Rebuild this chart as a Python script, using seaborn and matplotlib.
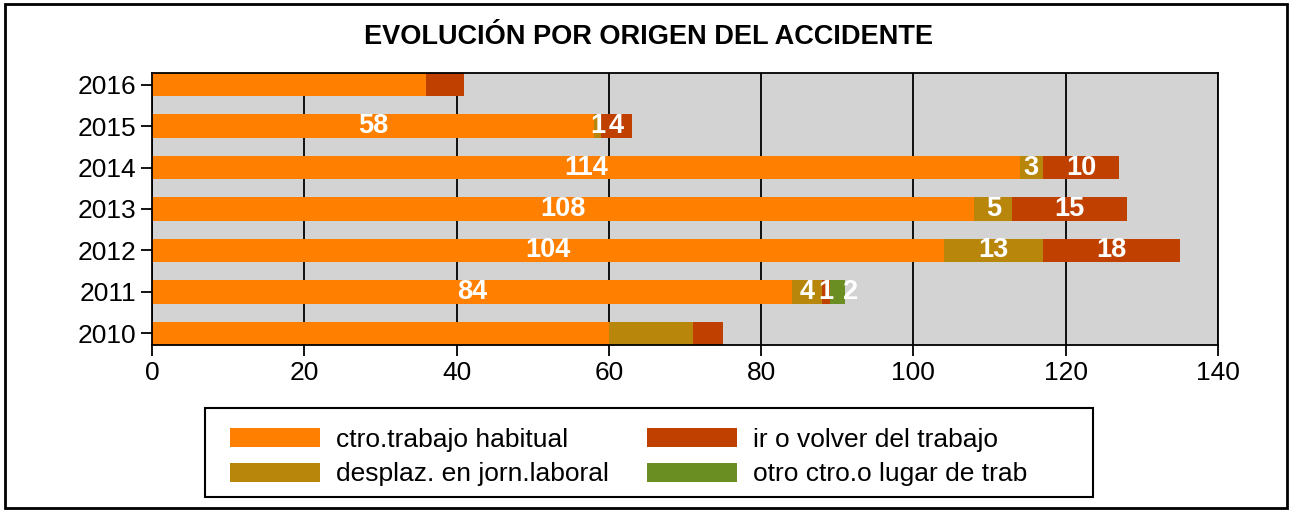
import matplotlib
matplotlib.use("Agg")
import matplotlib.pyplot as plt
from matplotlib.patches import Patch, Rectangle
import numpy as np
import pandas as pd
import seaborn as sns

# Datos (de arriba a abajo, como en el gráfico)
anios = ["2016", "2015", "2014", "2013", "2012", "2011", "2010"]
ctro_habitual = [36, 58, 114, 108, 104, 84, 60]
desplaz_jornada = [0, 1, 3, 5, 13, 4, 11]
ir_volver = [5, 4, 10, 15, 18, 1, 4]
otro_ctro = [0, 0, 0, 0, 0, 2, 0]
con_etiquetas = [False, True, True, True, True, True, False]

series = [
    ("ctro.trabajo habitual", ctro_habitual, "#FF8000"),
    ("desplaz. en jorn.laboral", desplaz_jornada, "#B8860B"),
    ("ir o volver del trabajo", ir_volver, "#C04000"),
    ("otro ctro.o lugar de trab", otro_ctro, "#6B8E23"),
]

sns.set_theme(style="white")
plt.rcParams["font.family"] = ["Liberation Sans", "DejaVu Sans"]
plt.rcParams["text.color"] = "black"

fig = plt.figure(figsize=(12.92, 5.12), dpi=100)
ax = fig.add_axes([0.1176, 0.3262, 0.8251, 0.5312])
ax.set_facecolor("#D3D3D3")

ancho = 0.56
acumulado = np.zeros(len(anios))
for k, (nombre, valores, color) in enumerate(series):
    df = pd.DataFrame({"anio": anios, "valor": valores})
    sns.barplot(data=df, x="valor", y="anio", order=anios, orient="h",
                color=color, width=ancho, left=acumulado.copy(),
                linewidth=0, saturation=1, ax=ax)
    for i, v in enumerate(valores):
        if con_etiquetas[i] and v > 0:
            # la última serie lleva la etiqueta justo a la derecha del tramo
            if k == len(series) - 1:
                x = acumulado[i] + v + 0.8
            else:
                x = acumulado[i] + v / 2
            ax.text(x, i, str(v), ha="center", va="center",
                    color="white", fontweight="bold", fontsize=19.5)
    acumulado += np.array(valores)

ax.set_xlim(0, 140)
ax.set_ylim(len(anios) - 1 + ancho / 2, -ancho / 2)
ax.set_xticks(range(0, 141, 20))
ax.set_xlabel("")
ax.set_ylabel("")
ax.grid(axis="x", color="black", linewidth=1.3)
ax.grid(axis="y", visible=False)
ax.set_axisbelow(True)
for sp in ax.spines.values():
    sp.set_color("black")
    sp.set_linewidth(1.3)
ax.tick_params(axis="both", direction="out", length=8, width=1.3,
               colors="black", labelsize=19, left=True, bottom=True)

fig.text(0.5016, 0.928, "EVOLUCIÓN POR ORIGEN DEL ACCIDENTE",
         ha="center", va="center", fontsize=19.5, fontweight="bold", color="black")

# Leyenda sin marco propio; el recuadro se dibuja aparte
manejadores = [Patch(facecolor=c, edgecolor="none", label=n) for n, _, c in series]
leg = fig.legend(handles=manejadores, ncol=2, loc="center left",
                 bbox_to_anchor=(0.168, 0.107), fontsize=19,
                 frameon=False, handlelength=3.4, handleheight=0.75,
                 handletextpad=0.6, columnspacing=1.45, borderpad=0,
                 labelspacing=0.4)
for t in leg.get_texts():
    t.set_color("black")
fig.add_artist(Rectangle((205 / 1292, 1 - 497 / 512), 888 / 1292, 89 / 512,
                         transform=fig.transFigure, fill=False,
                         edgecolor="black", linewidth=1.5))

fig.add_artist(Rectangle((0.004, 0.008), 0.992, 0.984, transform=fig.transFigure,
                         fill=False, edgecolor="black", linewidth=2))

fig.savefig("out.png", dpi=100)
